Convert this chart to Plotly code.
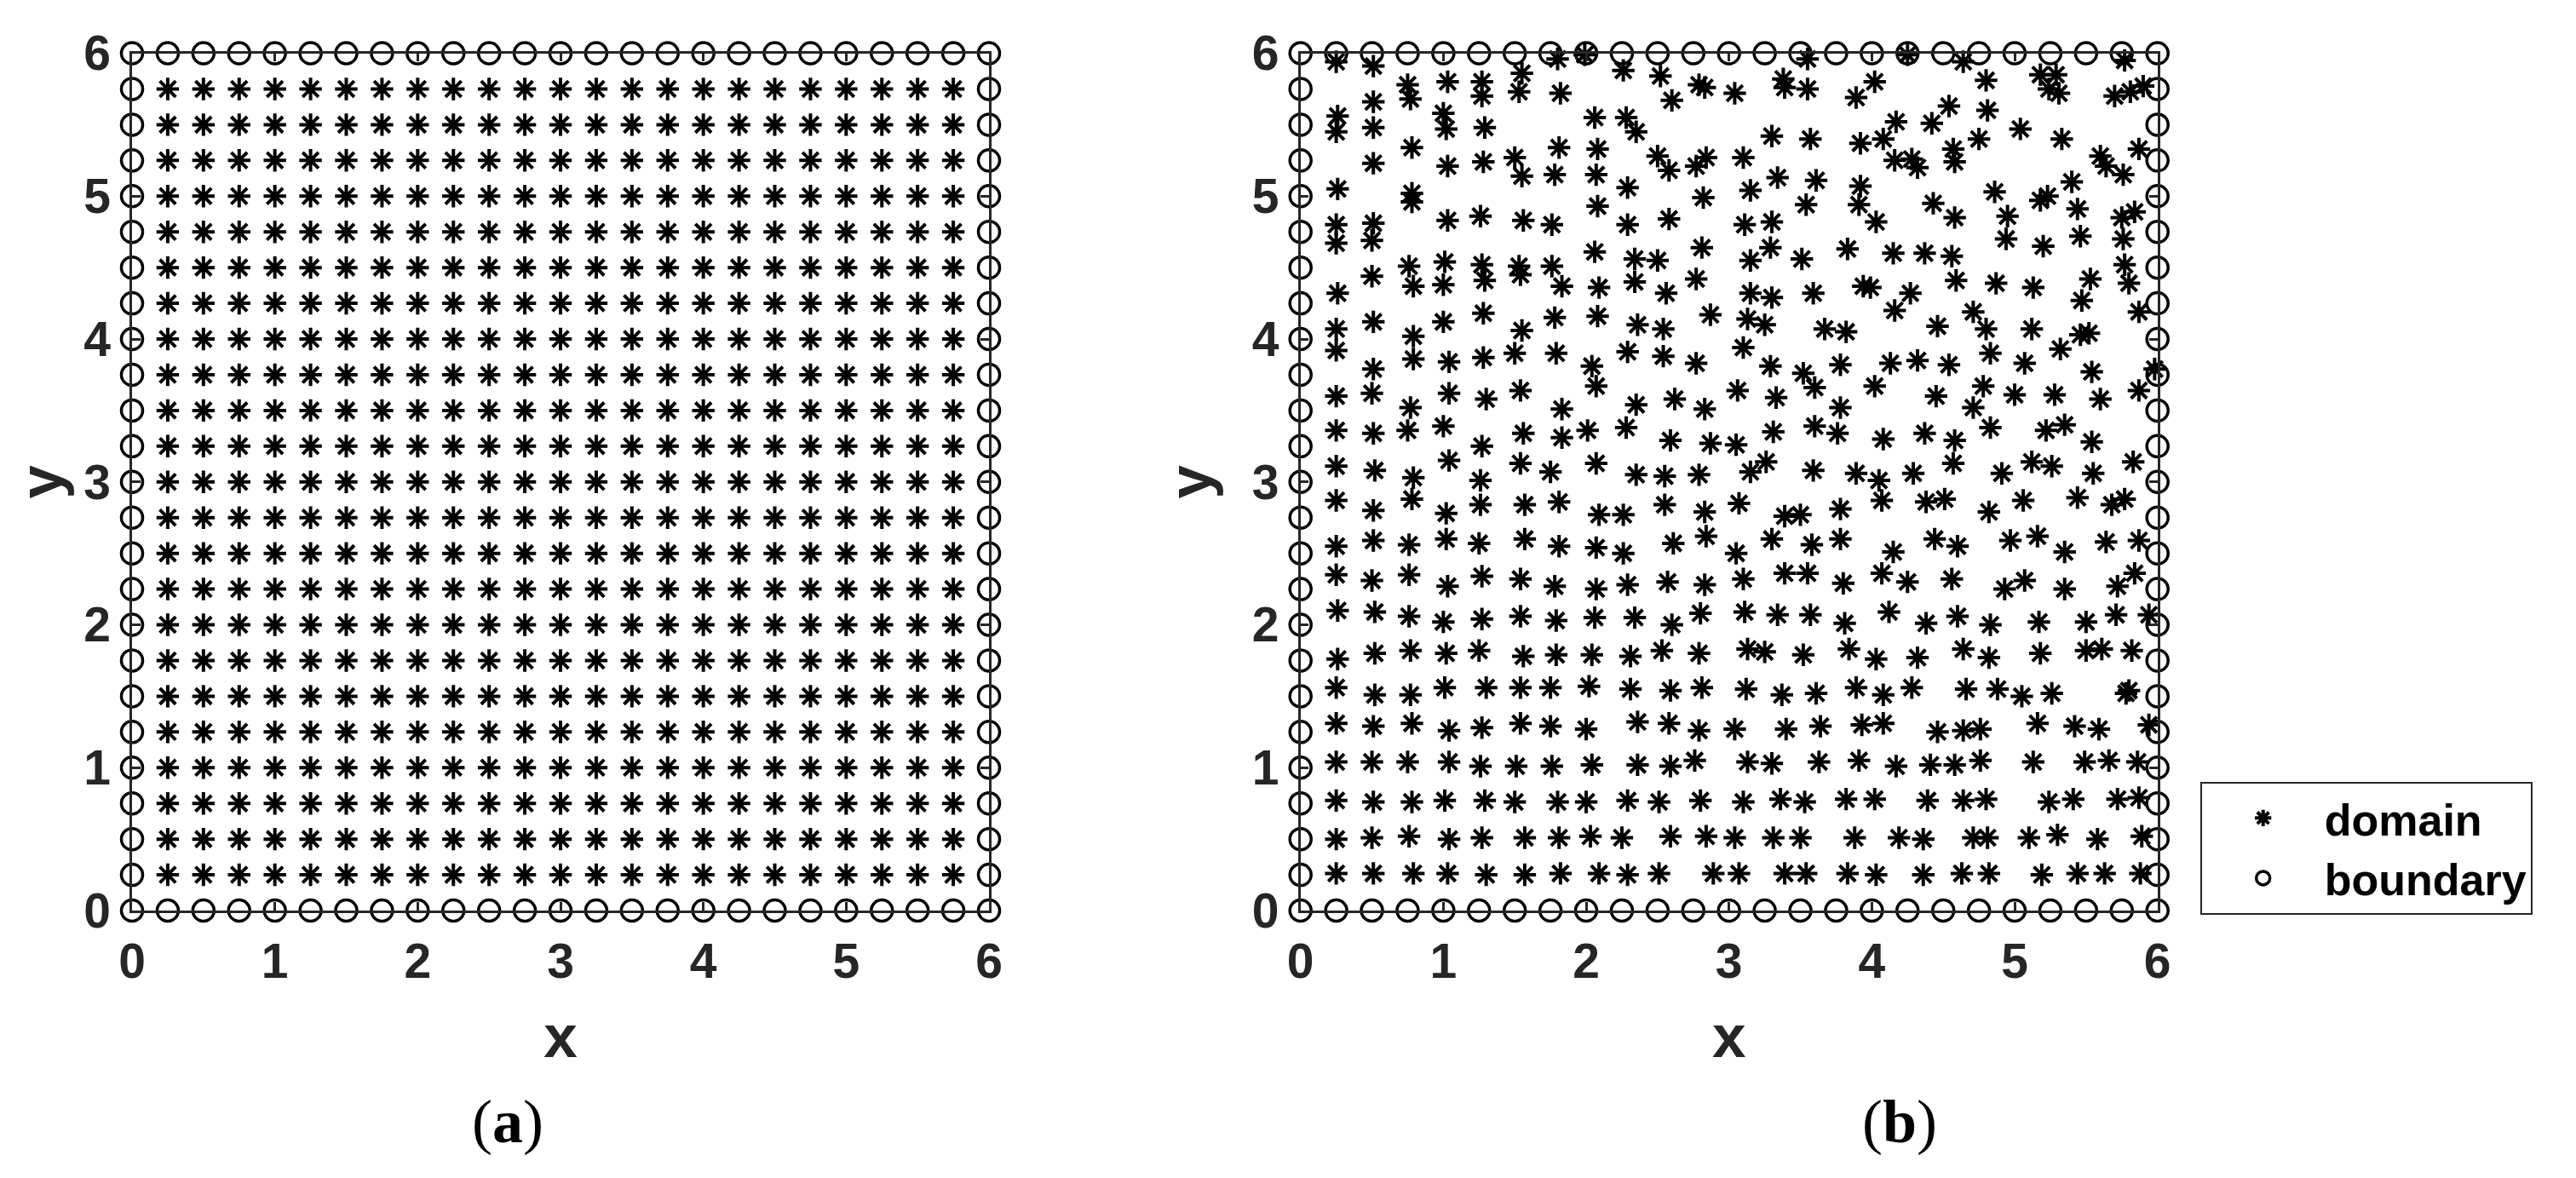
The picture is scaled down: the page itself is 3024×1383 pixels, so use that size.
import plotly.graph_objects as go

# axis ticks shared by both panels
ticks = [0, 1, 2, 3, 4, 5, 6]

# node levels of the regular grid (panel a) and of the boundary (both panels)
inner_levels = [0.25, 0.5, 0.75, 1.0, 1.25, 1.5, 1.75, 2.0, 2.25, 2.5, 2.75, 3.0,
                3.25, 3.5, 3.75, 4.0, 4.25, 4.5, 4.75, 5.0, 5.25, 5.5, 5.75]
edge_levels = [0.0] + inner_levels + [6.0]

# scattered domain nodes of panel (b), by band of y
domain_b_top = [
    (0.25,5.94),(0.51,5.91),(1.80,5.96),(1.99,5.99),(0.75,5.78),(0.77,5.68),(1.03,5.80),(1.27,5.80),
    (1.27,5.70),(1.55,5.86),(1.53,5.73),(1.82,5.72),(0.51,5.66),(0.26,5.56),(0.25,5.45),(1.00,5.58),
    (1.02,5.47),(0.51,5.48),(1.29,5.48),(0.78,5.34),(1.81,5.34),(0.51,5.23),(1.03,5.21),(1.28,5.24),
    (1.50,5.27),(1.55,5.14),(1.78,5.15),(0.26,5.05),(0.78,5.02),(0.78,4.96),(0.25,4.80),(0.25,4.67),
    (0.51,4.81),(0.50,4.69),(1.03,4.83),(1.26,4.86),(1.56,4.83),(1.76,4.80),(0.76,4.51),(0.79,4.37),
    (1.01,4.54),(1.00,4.38),(1.27,4.52),(1.29,4.41),(1.53,4.51),(1.54,4.45),(1.76,4.51),(0.50,4.44),
    (1.83,4.37),(0.26,4.32),(0.51,4.12),(0.25,4.07),(1.00,4.12),(1.28,4.18),(1.78,4.15),(1.55,4.06),
    (0.79,4.02),
    (2.26,5.88),(2.52,5.84),(2.79,5.78),(2.83,5.76),(2.60,5.67),(3.04,5.72),(3.38,5.82),(3.39,5.76),
    (3.55,5.75),(3.55,5.96),(3.89,5.69),(2.06,5.55),(2.28,5.55),(2.35,5.45),(3.30,5.42),(3.57,5.40),
    (3.92,5.37),(2.08,5.33),(2.50,5.28),(2.58,5.18),(2.84,5.27),(2.77,5.21),(3.10,5.27),(2.07,5.15),
    (2.29,5.06),(2.82,4.99),(3.15,5.04),(3.34,5.13),(3.61,5.11),(3.92,5.07),(3.91,4.94),(2.08,4.93),
    (3.54,4.94),(2.29,4.80),(2.58,4.84),(3.11,4.80),(3.30,4.82),(2.06,4.61),(2.34,4.56),(2.50,4.55),
    (2.81,4.64),(3.15,4.55),(3.29,4.64),(3.51,4.56),(3.83,4.63),(2.09,4.36),(2.34,4.40),(2.56,4.32),
    (2.77,4.42),(3.15,4.32),(3.30,4.29),(3.59,4.32),(3.94,4.37),(3.99,4.36),(2.08,4.16),(2.36,4.10),
    (2.54,4.07),(2.87,4.17),(3.13,4.14),(3.25,4.10),(3.67,4.07),(3.82,4.05),
    (4.25,5.99),(4.64,5.94),(4.02,5.80),(4.80,5.81),(5.18,5.85),(5.29,5.85),(5.24,5.75),(5.31,5.72),
    (5.77,5.95),(5.70,5.70),(5.81,5.73),(5.90,5.77),(4.54,5.63),(4.81,5.60),(4.17,5.52),(4.42,5.51),
    (5.04,5.47),(5.33,5.40),(4.08,5.40),(4.75,5.40),(4.57,5.33),(4.58,5.24),(4.16,5.25),(4.28,5.26),
    (4.32,5.20),(5.87,5.33),(5.60,5.28),(5.64,5.21),(5.76,5.15),(5.40,5.10),(4.86,5.03),(5.18,4.97),
    (5.23,5.00),(4.43,4.95),(4.58,4.85),(4.95,4.86),(5.44,4.91),(5.75,4.85),(5.84,4.89),(4.03,4.82),
    (4.94,4.70),(5.20,4.65),(5.46,4.72),(5.76,4.70),(4.15,4.60),(4.37,4.60),(4.56,4.58),(5.77,4.52),
    (5.80,4.39),(4.59,4.41),(4.87,4.39),(5.13,4.36),(5.53,4.42),(4.27,4.32),(5.47,4.27),(4.16,4.20),
    (4.71,4.19),(5.87,4.19),(4.46,4.09),(4.80,4.07),(5.12,4.07),(5.46,4.03),(5.52,4.04),
]

domain_b_mid = [
    (0.25,3.92),(0.79,3.86),(1.04,3.84),(1.28,3.87),(1.50,3.90),(1.79,3.90),(0.51,3.79),(0.25,3.60),
    (0.50,3.62),(0.77,3.52),(1.04,3.62),(1.30,3.58),(1.54,3.64),(1.83,3.51),(0.25,3.36),(0.51,3.34),
    (0.75,3.36),(1.00,3.39),(1.27,3.25),(1.56,3.34),(1.83,3.31),(0.25,3.11),(0.52,3.08),(0.79,3.03),
    (1.04,3.15),(1.26,3.01),(1.54,3.13),(1.75,3.07),(0.25,2.87),(0.51,2.80),(0.78,2.88),(1.02,2.78),
    (1.26,2.84),(1.57,2.84),(1.81,2.86),(0.25,2.55),(0.51,2.59),(0.76,2.56),(1.02,2.60),(1.25,2.57),
    (1.57,2.60),(1.81,2.55),(0.25,2.35),(0.50,2.31),(0.76,2.35),(1.03,2.27),(1.27,2.34),(1.54,2.32),
    (1.78,2.27),(0.26,2.10),(0.52,2.09),(0.76,2.06),(1.00,2.02),(1.27,2.04),(1.54,2.06),(1.79,2.03),
    (2.29,3.91),(2.54,3.88),(3.10,3.94),(2.04,3.81),(2.77,3.83),(3.29,3.81),(3.52,3.76),(3.60,3.66),
    (3.78,3.82),(2.07,3.67),(3.06,3.64),(2.35,3.54),(2.62,3.58),(2.83,3.51),(3.33,3.59),(3.78,3.52),
    (2.01,3.36),(2.28,3.38),(2.59,3.29),(2.87,3.27),(3.05,3.26),(3.31,3.35),(3.60,3.39),(3.76,3.34),
    (2.07,3.13),(2.35,3.05),(2.55,3.04),(2.79,3.05),(3.15,3.07),(3.26,3.14),(3.59,3.08),(3.89,3.06),
    (2.09,2.77),(2.26,2.77),(2.55,2.84),(2.83,2.79),(3.07,2.85),(3.39,2.76),(3.50,2.77),(3.78,2.81),
    (2.07,2.54),(2.26,2.50),(2.61,2.57),(2.84,2.62),(3.05,2.50),(3.30,2.60),(3.58,2.56),(3.78,2.60),
    (2.07,2.25),(2.29,2.28),(2.57,2.30),(2.83,2.28),(3.10,2.32),(3.39,2.36),(3.55,2.36),(3.80,2.29),
    (2.06,2.05),(2.34,2.05),(2.60,2.00),(2.80,2.08),(3.11,2.09),(3.34,2.07),(3.57,2.07),(3.81,2.01),
    (4.83,3.90),(5.32,3.93),(4.13,3.83),(4.32,3.85),(4.54,3.82),(5.07,3.83),(5.54,3.77),(5.98,3.79),
    (4.02,3.67),(4.78,3.67),(4.45,3.60),(5.00,3.61),(5.28,3.61),(5.60,3.58),(5.87,3.64),(4.71,3.52),
    (4.83,3.38),(5.22,3.36),(5.35,3.40),(4.08,3.30),(4.37,3.34),(4.58,3.29),(5.54,3.28),(4.57,3.13),
    (5.12,3.14),(5.26,3.11),(5.83,3.14),(4.05,3.01),(4.29,3.06),(4.91,3.06),(5.55,3.06),(4.07,2.87),
    (4.38,2.86),(4.51,2.88),(4.82,2.79),(5.06,2.87),(5.44,2.89),(5.68,2.84),(5.77,2.88),(4.44,2.60),
    (4.15,2.51),(4.60,2.55),(4.97,2.59),(5.16,2.62),(5.35,2.51),(5.64,2.58),(5.87,2.59),(4.07,2.36),
    (4.25,2.30),(4.56,2.32),(4.93,2.25),(5.07,2.31),(5.35,2.25),(5.72,2.27),(5.84,2.36),(4.12,2.09),
    (4.38,2.01),(4.60,2.06),(4.83,2.00),(5.17,2.02),(5.50,2.02),(5.71,2.07),(5.94,2.07),
]

domain_b_low = [
    (0.26,1.76),(0.52,1.80),(0.77,1.82),(1.02,1.80),(1.25,1.82),(1.56,1.78),(1.79,1.79),(0.25,1.56),
    (0.52,1.51),(0.77,1.51),(1.01,1.56),(1.30,1.56),(1.54,1.56),(1.75,1.56),(0.25,1.31),(0.51,1.29),
    (0.78,1.31),(1.04,1.26),(1.27,1.28),(1.54,1.31),(1.75,1.29),(0.25,1.04),(0.50,1.04),(0.75,1.04),
    (1.04,1.04),(1.26,1.01),(1.51,1.01),(1.76,1.01),(0.25,0.77),(0.51,0.76),(0.78,0.76),(1.01,0.77),
    (1.29,0.77),(1.50,0.76),(1.80,0.76),(0.25,0.50),(0.50,0.51),(0.76,0.52),(1.04,0.50),(1.27,0.51),
    (1.57,0.51),(1.81,0.51),(0.25,0.26),(0.51,0.26),(0.79,0.26),(1.03,0.26),(1.30,0.25),(1.57,0.25),
    (1.82,0.26),
    (2.04,1.79),(2.31,1.78),(2.53,1.82),(2.79,1.80),(3.13,1.83),(3.25,1.81),(3.52,1.79),(3.84,1.83),
    (2.02,1.57),(2.31,1.55),(2.59,1.54),(2.81,1.56),(3.12,1.55),(3.37,1.51),(3.61,1.52),(3.89,1.56),
    (2.00,1.27),(2.36,1.32),(2.58,1.31),(2.79,1.26),(3.04,1.27),(3.40,1.27),(3.64,1.29),(3.93,1.30),
    (2.04,1.02),(2.36,1.02),(2.59,1.01),(2.76,1.05),(3.13,1.04),(3.30,1.03),(3.63,1.04),(3.91,1.05),
    (2.00,0.76),(2.29,0.77),(2.51,0.76),(2.80,0.77),(3.10,0.76),(3.36,0.78),(3.53,0.76),(3.82,0.78),
    (2.03,0.52),(2.25,0.51),(2.59,0.52),(2.84,0.52),(3.04,0.51),(3.31,0.51),(3.50,0.51),(3.88,0.51),
    (2.09,0.26),(2.29,0.25),(2.51,0.26),(2.89,0.26),(3.07,0.26),(3.39,0.26),(3.54,0.26),(3.83,0.26),
    (4.03,1.76),(4.32,1.77),(4.64,1.83),(4.82,1.77),(5.18,1.80),(5.50,1.82),(5.61,1.83),(5.82,1.82),
    (4.08,1.51),(4.28,1.56),(4.66,1.55),(4.88,1.55),(5.05,1.50),(5.26,1.52),(5.78,1.52),(5.80,1.54),
    (4.08,1.31),(4.46,1.25),(4.64,1.26),(4.76,1.27),(5.16,1.31),(5.42,1.29),(5.59,1.27),(5.94,1.30),
    (4.17,1.01),(4.41,1.02),(4.58,1.02),(4.76,1.05),(5.13,1.04),(5.49,1.04),(5.66,1.05),(5.86,1.04),
    (4.02,0.78),(4.39,0.77),(4.64,0.77),(4.80,0.78),(5.24,0.76),(5.41,0.78),(5.72,0.78),(5.87,0.79),
    (4.19,0.51),(4.36,0.50),(4.71,0.51),(4.81,0.51),(5.10,0.51),(5.30,0.53),(5.58,0.50),(5.89,0.52),
    (4.03,0.25),(4.36,0.25),(4.63,0.26),(4.82,0.26),(5.19,0.25),(5.44,0.26),(5.63,0.26),(5.88,0.26),
]

# regular domain of panel (a)
dom_a_x = [x for y in inner_levels for x in inner_levels]
dom_a_y = [y for y in inner_levels for x in inner_levels]

# boundary nodes (same in both panels): bottom, top, left, right
bnd_x = edge_levels + edge_levels + [0.0] * len(inner_levels) + [6.0] * len(inner_levels)
bnd_y = [0.0] * len(edge_levels) + [6.0] * len(edge_levels) + inner_levels + inner_levels

dom_b = domain_b_top + domain_b_mid + domain_b_low
dom_b_x = [p[0] for p in dom_b]
dom_b_y = [p[1] for p in dom_b]

INK = '#262626'
# the page body keeps an 8px margin, so the figure is drawn 8px in
OFF = 8
W, H = 3024 - OFF, 1383 - OFF

def px(xp):
    return (xp - OFF) / W

def py(yp):
    return 1 - (yp - OFF) / H

star = dict(symbol='asterisk-open', size=22, color='black', line=dict(color='black', width=4))
ring = dict(symbol='circle-open', size=25, color='black', line=dict(color='black', width=3.5))

fig = go.Figure()

fig.add_trace(go.Scatter(x=dom_a_x, y=dom_a_y, mode='markers', marker=star, name='domain',
                         showlegend=False, cliponaxis=False, xaxis='x', yaxis='y'))
fig.add_trace(go.Scatter(x=bnd_x, y=bnd_y, mode='markers', marker=ring, name='boundary',
                         showlegend=False, cliponaxis=False, xaxis='x', yaxis='y'))
fig.add_trace(go.Scatter(x=dom_b_x, y=dom_b_y, mode='markers', marker=star, name='domain',
                         cliponaxis=False, xaxis='x2', yaxis='y2'))
fig.add_trace(go.Scatter(x=bnd_x, y=bnd_y, mode='markers', marker=ring, name='boundary',
                         cliponaxis=False, xaxis='x2', yaxis='y2'))

tickfont = dict(family='Liberation Sans', size=57, color=INK, weight='bold')
titlefont = dict(family='Liberation Sans', size=71, color=INK, weight='bold')

def axis(domain, title, anchor, standoff, label_gap):
    return dict(
        domain=domain, anchor=anchor, range=[0, 6], tickvals=ticks,
        ticks='inside', ticklen=10, tickwidth=2.5, tickcolor=INK,
        showline=True, linecolor=INK, linewidth=2.5, mirror='ticks',
        showgrid=False, zeroline=False, automargin=False,
        tickfont=tickfont, ticklabelstandoff=label_gap,
        title=dict(text=title, font=titlefont, standoff=standoff),
    )

ydom = [py(1069), py(62.5)]
xdom_a = [px(155), px(1161)]
xdom_b = [px(1526.7), px(2532.7)]

caption_font = dict(family='Liberation Serif', size=72, color='black')

fig.update_layout(
    width=W, height=H,
    margin=dict(l=0, r=0, t=0, b=0),
    paper_bgcolor='white', plot_bgcolor='white',
    xaxis=axis(xdom_a, 'x', 'y', 33, 8),
    yaxis=axis(ydom, 'y', 'x', 25, 11),
    xaxis2=axis(xdom_b, 'x', 'y2', 33, 8),
    yaxis2=axis(ydom, 'y', 'x2', 25, 11),
    legend=dict(
        x=px(2582.7), y=py(918), xanchor='left', yanchor='top',
        bordercolor=INK, borderwidth=2, bgcolor='white',
        font=dict(family='Liberation Sans', size=52, color='black', weight='bold'),
        itemwidth=134,
    ),
    annotations=[
        dict(text='(<b>a</b>)', x=px(596), y=py(1317), xref='paper', yref='paper',
             xanchor='center', yanchor='middle', showarrow=False, font=caption_font),
        dict(text='(<b>b</b>)', x=px(2230), y=py(1317), xref='paper', yref='paper',
             xanchor='center', yanchor='middle', showarrow=False, font=caption_font),
    ],
)

fig.write_html("out.html")
